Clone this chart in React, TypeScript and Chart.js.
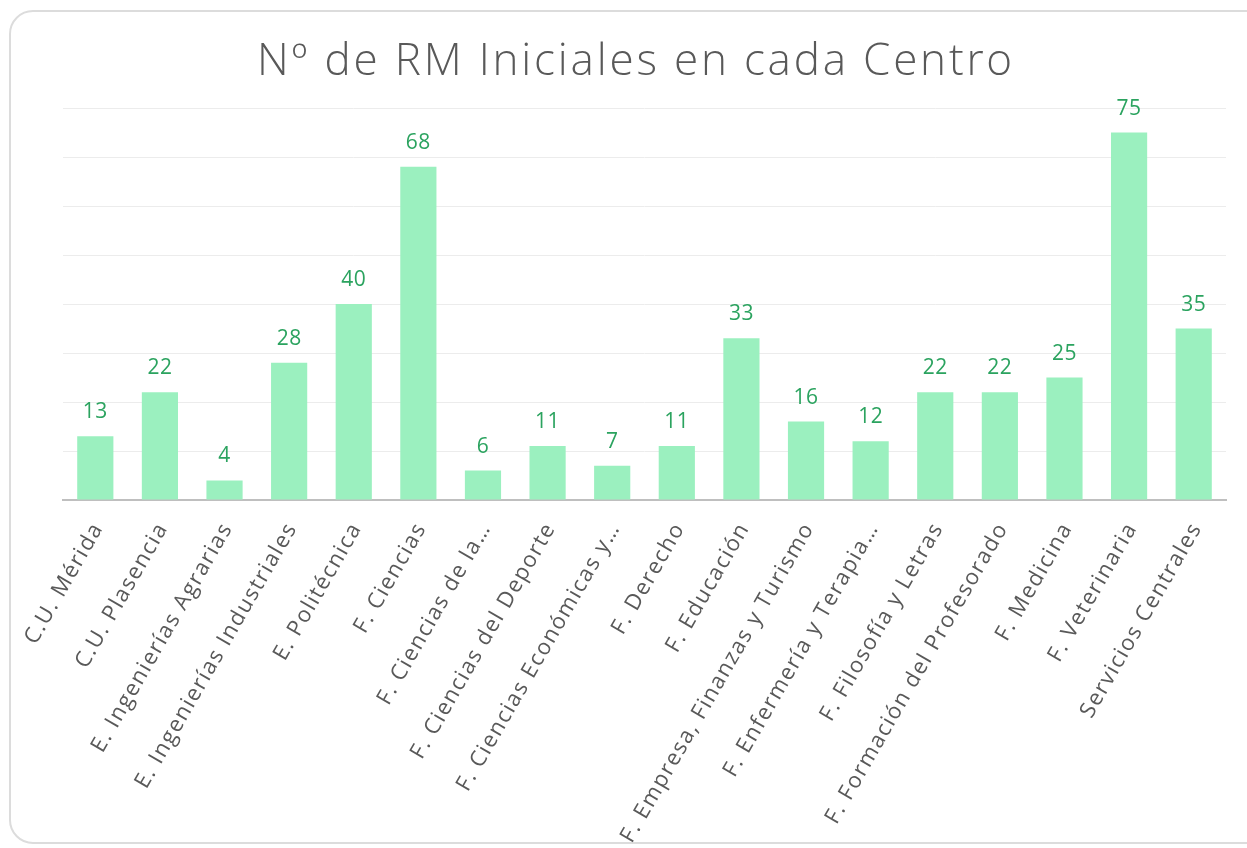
import React, { useEffect, useRef } from "react";
import { Chart, registerables } from "chart.js";

Chart.register(...registerables);

const TITLE = "Nº de RM Iniciales en cada Centro";

const categories: string[] = [
  "C.U. Mérida",
  "C.U. Plasencia",
  "E. Ingenierías Agrarias",
  "E. Ingenierías Industriales",
  "E. Politécnica",
  "F. Ciencias",
  "F. Ciencias de la…",
  "F. Ciencias del Deporte",
  "F. Ciencias Económicas y…",
  "F. Derecho",
  "F. Educación",
  "F. Empresa, Finanzas y Turismo",
  "F. Enfermería y Terapia…",
  "F. Filosofía y Letras",
  "F. Formación del Profesorado",
  "F. Medicina",
  "F. Veterinaria",
  "Servicios Centrales",
];

const values: number[] = [13, 22, 4, 28, 40, 68, 6, 11, 7, 11, 33, 16, 12, 22, 22, 25, 75, 35];

const yTicks = { min: 0, max: 80, step: 10 };

const FONT = "'Open Sans', 'Noto Sans', sans-serif";

export default function App() {
  const ref = useRef<HTMLCanvasElement | null>(null);

  useEffect(() => {
    if (!ref.current) return;
    const textPlugin = {
      id: "customText",
      beforeDraw(chart: any) {
        (chart.ctx as any).letterSpacing = "1.5px";
      },
      afterDatasetsDraw(chart: any) {
        const ctx = chart.ctx;
        const meta = chart.getDatasetMeta(0);
        ctx.save();
        (ctx as any).letterSpacing = "0.5px";
        ctx.font = `400 21px ${FONT}`;
        ctx.fillStyle = "#2ba35f";
        ctx.textAlign = "center";
        ctx.textBaseline = "alphabetic";
        meta.data.forEach((bar: any, i: number) => {
          ctx.fillText(String(values[i]), bar.x, bar.y - 18);
        });
        ctx.restore();
      },
      afterDraw(chart: any) {
        const ctx = chart.ctx;
        ctx.save();
        (ctx as any).letterSpacing = "2.8px";
        ctx.font = `300 44px ${FONT}`;
        ctx.fillStyle = "#595959";
        ctx.textAlign = "center";
        ctx.textBaseline = "alphabetic";
        ctx.fillText(TITLE, 636, 75);
        ctx.restore();
      },
    };

    const chart = new Chart(ref.current, {
      type: "bar",
      data: {
        labels: categories,
        datasets: [
          {
            data: values,
            backgroundColor: "#9bf0bf",
            borderWidth: 0,
            barPercentage: 0.56,
            categoryPercentage: 1,
          },
        ],
      },
      plugins: [textPlugin],
      options: {
        animation: false,
        responsive: false,
        devicePixelRatio: 1,
        layout: { padding: { left: 44, right: 21, top: 108, bottom: 0 } },
        plugins: {
          legend: { display: false },
          tooltip: { enabled: false },
          title: { display: false },
        },
        scales: {
          x: {
            grid: { display: false },
            border: { display: true, color: "#bfbfbf", width: 2 },
            ticks: {
              color: "#595959",
              font: { family: FONT, size: 22 },
              minRotation: 60,
              maxRotation: 60,
              autoSkip: false,
              padding: 10,
              labelOffset: 3,
            },
            afterFit: (s: any) => {
              s.height = 348;
              s.paddingLeft = 0;
              s.paddingRight = 0;
            },
          },
          y: {
            min: yTicks.min,
            max: yTicks.max,
            ticks: { stepSize: yTicks.step, display: false },
            grid: { color: "#ececec", lineWidth: 1, drawTicks: false },
            border: { display: false },
            afterFit: (s: any) => {
              s.width = 19;
            },
          },
        },
      },
    });
    return () => chart.destroy();
  }, []);

  return (
    <div style={{ position: "fixed", left: 0, top: 0, width: 1247, height: 848, overflow: "hidden", background: "#fff" }}>
      <div
        style={{
          position: "absolute",
          left: 9,
          top: 10,
          width: 1262,
          height: 834,
          border: "2px solid #dcdcdc",
          borderRadius: 24,
          boxSizing: "border-box",
        }}
      />
      <canvas ref={ref} width={1247} height={848} style={{ position: "absolute", left: 0, top: 0, width: 1247, height: 848 }} />
    </div>
  );
}
